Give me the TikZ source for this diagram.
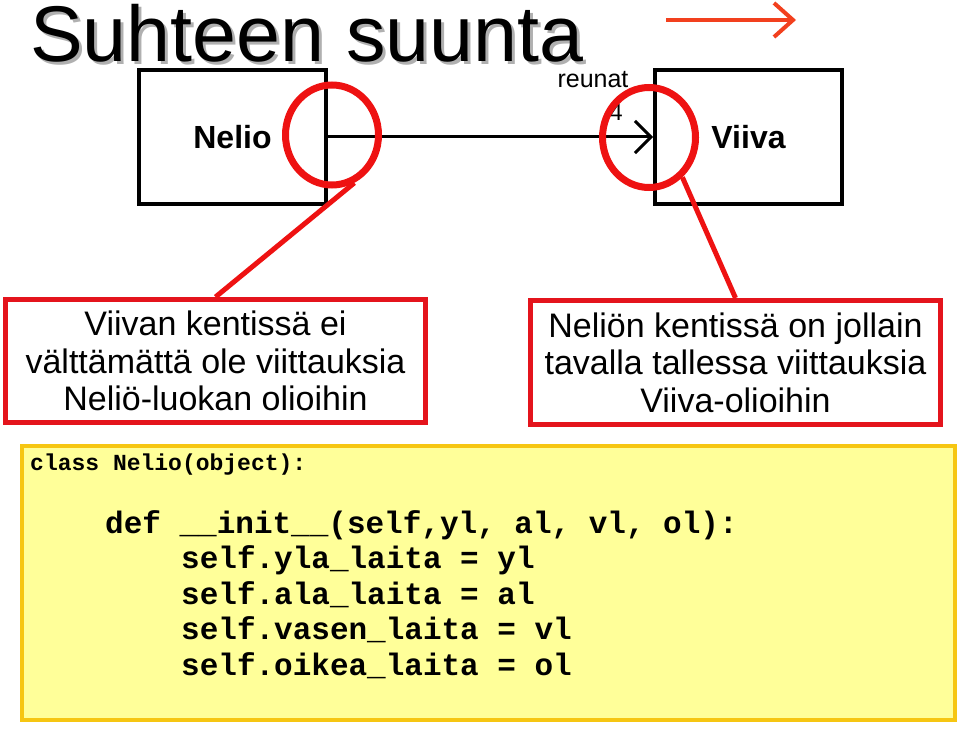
\documentclass[tikz,border=0pt]{standalone}
\usepackage{fontspec}
\setmainfont{Liberation Sans}
\setmonofont{Liberation Mono}
\usepackage{tikz}
\usetikzlibrary{positioning,arrows.meta,calc,shapes.geometric}
\definecolor{ringred}{RGB}{238,18,18}
\definecolor{notered}{RGB}{228,20,28}
\definecolor{dirred}{RGB}{242,64,30}
\definecolor{codefill}{RGB}{255,255,153}
\definecolor{codeedge}{RGB}{246,198,18}
\definecolor{shadowgray}{RGB}{176,176,176}

\begin{document}
\begin{tikzpicture}[x=1pt,y=-1pt,
    heading/.style={anchor=base west,inner sep=0pt,font=\fontsize{79}{80}\selectfont},
    classbox/.style={rectangle,draw,line width=4pt,minimum width=187pt,minimum height=134pt,
                     font=\fontsize{32}{38}\selectfont\bfseries},
    ring/.style={ellipse,draw=ringred,line width=7pt,minimum width=93pt,minimum height=100pt,inner sep=0pt},
    note/.style={rectangle,draw=notered,line width=5pt,align=center,
                 font=\fontsize{34}{37.5}\selectfont},
    pointer/.style={draw=ringred,line width=5pt},
    assoc/.style={line width=3pt,-{Straight Barb[length=16pt,width=32pt]}},
    code/.style={anchor=base west,inner sep=0pt,font=\ttfamily\bfseries\fontsize{31}{35.5}\selectfont}
]
\useasboundingbox (0,0) rectangle (960,730);

\node[heading,text=shadowgray] (titleshadow) at (33,65) {Suhteen suunta};
\node[heading] (title) at (30,62) {Suhteen suunta};

\coordinate (dirtail) at (666,20);
\coordinate (dirhead) at (796,20);
\draw[dirred,line width=4pt,-{Straight Barb[length=19pt,width=34pt]}] (dirtail) -- (dirhead);

\node[classbox] (nelio) at (232.5,137) {Nelio};
\node[classbox] (viiva) at (748.5,137) {Viiva};
\draw[assoc] (nelio.east) -- (viiva.west);
\node[anchor=base,inner sep=0pt,font=\fontsize{25}{25}\selectfont] (role) at (593,88) {reunat};
\node[anchor=base,inner sep=0pt,font=\fontsize{24}{24}\selectfont] (mult) at (616,121) {4};

\node[ring] (ringL) at (332,135) {};
\node[ring] (ringR) at (649,137.5) {};

\node[note,minimum width=420pt,minimum height=123pt] (noteL) at (215.5,361)
    {Viivan kentissä ei\\välttämättä ole viittauksia\\Neliö-luokan olioihin};
\node[note,minimum width=410pt,minimum height=124pt] (noteR) at (735.5,362.5)
    {Neliön kentissä on jollain\\tavalla tallessa viittauksia\\Viiva-olioihin};

\draw[pointer] (ringL.-65) -- (noteL.north);
\draw[pointer] (ringR.-50) -- (noteR.north);

\node[draw=codeedge,fill=codefill,line width=4pt,minimum width=933pt,minimum height=274pt] (codebox) at (488.5,583) {};
\node[code,font=\ttfamily\bfseries\fontsize{23}{26}\selectfont] (cls) at (30,470) {class Nelio(object):};
\node[code] (initdef) at (105,533) {def \_\_init\_\_(self,yl, al, vl, ol):};
\foreach \fld/\arg [count=\i] in {yla/yl,ala/al,vasen/vl,oikea/ol}
    \node[code] (attr\i) at (181,533+35.5*\i) {self.\fld\_laita = \arg};
\end{tikzpicture}
\end{document}
